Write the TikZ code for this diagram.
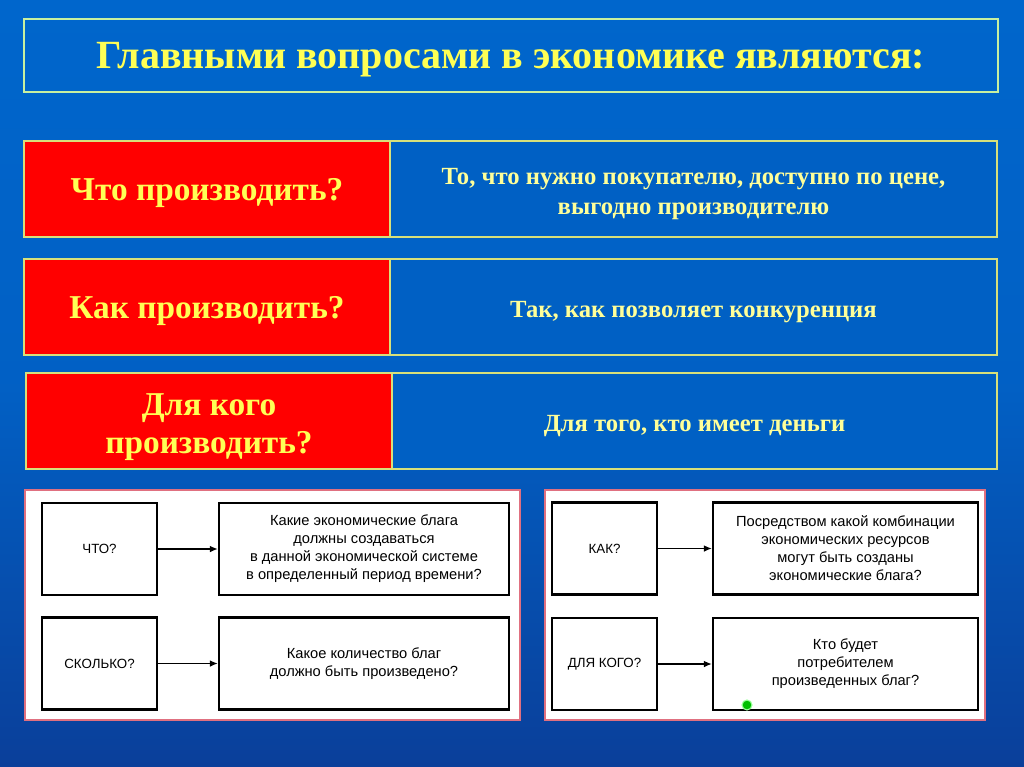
\documentclass[tikz,border=0pt]{standalone}
\usepackage{fontspec}
\setmainfont{Liberation Serif}
\setsansfont{Liberation Sans}
\usetikzlibrary{arrows.meta}
\definecolor{bgtop}{HTML}{0066CC}
\definecolor{bgbot}{HTML}{0A3F9A}
\definecolor{boxblue}{HTML}{0060C4}
\definecolor{frame}{HTML}{D8E07A}
\definecolor{titlefr}{HTML}{C8F0A0}
\definecolor{ytext}{HTML}{FFFF55}
\definecolor{ltext}{HTML}{FFFF99}
\definecolor{panelfr}{HTML}{E07080}
\newcommand\dn[2]{\raisebox{#1}[\height][\depth]{\begin{tabular}{@{}c@{}}#2\end{tabular}}}
\tikzset{
  redbox/.style={draw=frame, line width=1.2pt, fill=red, inner sep=0pt, text=ytext,
    font=\bfseries\fontsize{25}{28}\selectfont, align=center, minimum height=96*0.75pt},
  bluebox/.style={draw=frame, line width=1.2pt, fill=boxblue, inner sep=0pt, text=ltext,
    font=\bfseries\fontsize{18.5}{22.5}\selectfont, align=center, minimum height=96*0.75pt},
  panel/.style={draw=panelfr, line width=1.2pt, fill=white, inner sep=0pt},
  qbox/.style={draw=black, line width=1.6pt, fill=white, inner sep=0pt, align=center,
    font=\sffamily\fontsize{10}{13.5}\selectfont, minimum height=92*0.75pt},
  abox/.style={qbox, font=\sffamily\fontsize{11}{13.5}\selectfont},
  conn/.style={line width=1.2pt, -{Latex[length=6pt,width=5pt]}}
}
\begin{document}
\begin{tikzpicture}[x=0.75pt,y=-0.75pt]
\useasboundingbox (0,0) rectangle (1024,767);
\shade[top color=bgtop, bottom color=bgbot, middle color=bgtop!85!bgbot] (0,0) rectangle (1024,767);
% title
\node[draw=titlefr, line width=1.2pt, inner sep=0pt, minimum width=974*0.75pt, minimum height=73*0.75pt,
  text=ytext, font=\bfseries\fontsize{30}{30}\selectfont] (title) at (511,55.5)
  {\dn{-4pt}{Главными вопросами в экономике являются:}};
% rows
\node[redbox, minimum width=366*0.75pt] (r1) at (207,189) {\dn{-3pt}{Что производить?}};
\node[bluebox, minimum width=607*0.75pt] (b1) at (693.5,189)
  {\dn{-3.5pt}{То, что нужно покупателю, доступно по цене,\\выгодно производителю}};
\node[redbox, minimum width=366*0.75pt] (r2) at (207,307) {\dn{-3pt}{Как производить?}};
\node[bluebox, minimum width=607*0.75pt] (b2) at (693.5,307) {\dn{-3pt}{Так, как позволяет конкуренция}};
\node[redbox, minimum width=366*0.75pt] (r3) at (209,421) {\dn{-4.5pt}{Для кого\\производить?}};
\node[bluebox, minimum width=605*0.75pt] (b3) at (694.5,421) {\dn{-3.5pt}{Для того, кто имеет деньги}};
% left panel
\node[panel, minimum width=495*0.75pt, minimum height=230*0.75pt] (p1) at (272.5,605) {};
\node[qbox, minimum width=115*0.75pt] (q1) at (99.5,549) {ЧТО?};
\node[abox, minimum width=290*0.75pt] (a1) at (364,549)
  {Какие экономические блага\\должны создаваться\\в данной экономической системе\\в определенный период времени?};
\node[qbox, minimum width=115*0.75pt] (q2) at (99.5,663.5) {СКОЛЬКО?};
\node[abox, minimum width=290*0.75pt] (a2) at (364,663.5)
  {Какое количество благ\\должно быть произведено?};
\draw[conn] (q1.east) -- (a1.west);
\draw[conn] (q2.east) -- (a2.west);
% right panel
\node[panel, minimum width=440*0.75pt, minimum height=230*0.75pt] (p2) at (765,605) {};
\node[qbox, minimum width=105*0.75pt] (q3) at (604.5,548.5) {КАК?};
\node[abox, minimum width=265*0.75pt] (a3) at (845.5,548.5)
  {Посредством какой комбинации\\экономических ресурсов\\могут быть созданы\\экономические блага?};
\node[qbox, minimum width=105*0.75pt] (q4) at (604.5,664) {ДЛЯ КОГО?};
\node[abox, minimum width=265*0.75pt] (a4) at (845.5,664)
  {Кто будет\\потребителем\\произведенных благ?};
\draw[conn] (q3.east) -- (a3.west);
\draw[conn] (q4.east) -- (a4.west);
\fill[green!75!black, draw=green!40!white, line width=0.8pt] (747,705) circle (5);
\end{tikzpicture}
\end{document}
